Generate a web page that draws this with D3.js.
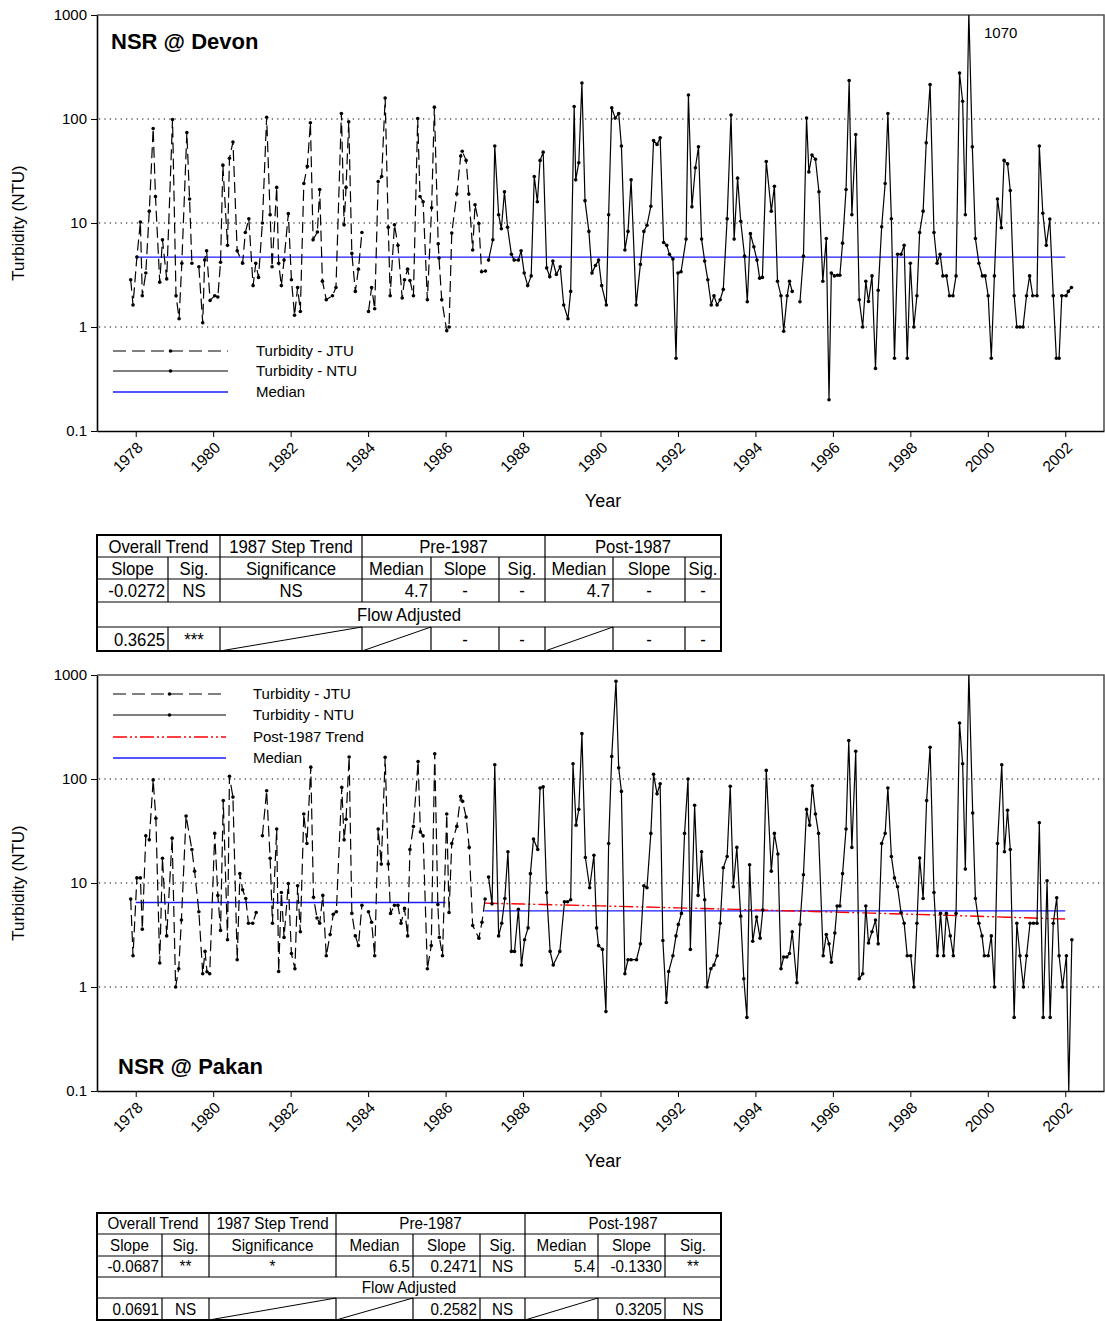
<!DOCTYPE html>
<html><head><meta charset="utf-8">
<script src="https://cdn.jsdelivr.net/npm/d3@7"></script>
<style>body{margin:0;background:#fff}svg{display:block}text{font-family:"Liberation Sans",Arial,sans-serif;fill:#000}</style>
</head><body><svg id="c" width="1105" height="1321"></svg>
<script>
// ---------- DATA ----------
const yTickValues = [0.1, 1, 10, 100, 1000];
const yTickLabels = ["0.1", "1", "10", "100", "1000"];
const xTickYears = [1978,1980,1982,1984,1986,1988,1990,1992,1994,1996,1998,2000,2002];

const devonJTU = [[1977.87,2.85],[1977.93,1.63],[1978.03,4.7],[1978.12,10.2],[1978.17,2.0],[1978.26,3.3],[1978.35,13],[1978.45,81],[1978.51,18],[1978.62,2.7],[1978.69,6.9],[1978.80,2.9],[1978.95,99],[1979.04,2.0],[1979.12,1.2],[1979.19,4.1],[1979.32,74],[1979.39,17],[1979.45,4.1],[1979.54,null],[1979.63,3.8],[1979.73,1.1],[1979.78,4.4],[1979.83,5.4],[1979.92,1.8],[1980.04,2.0],[1980.12,1.94],[1980.19,4.2],[1980.25,36],[1980.37,6.1],[1980.42,42],[1980.51,60],[1980.62,5.4],[1980.76,4.1],[1980.83,8.1],[1980.92,11],[1981.03,2.5],[1981.10,4.1],[1981.17,3.0],[1981.27,10],[1981.38,104],[1981.47,12],[1981.52,3.8],[1981.64,22],[1981.69,4.1],[1981.76,2.5],[1981.83,4.4],[1981.94,12.3],[1982.02,2.85],[1982.10,1.3],[1982.18,2.4],[1982.25,1.41],[1982.34,24],[1982.43,35],[1982.51,92],[1982.58,6.9],[1982.69,8.2],[1982.75,21],[1982.82,2.76],[1982.92,1.83],[1983.08,2.0],[1983.17,2.4],[1983.31,113],[1983.38,9.6],[1983.43,22],[1983.50,94],[1983.58,5.1],[1983.67,2.2],[1983.75,3.6],[1983.84,8.1],[1983.92,null],[1984.01,1.41],[1984.09,2.4],[1984.17,1.5],[1984.26,25],[1984.35,28],[1984.44,159],[1984.52,9.1],[1984.57,2.0],[1984.68,9.6],[1984.77,6.1],[1984.88,1.9],[1984.94,2.85],[1985.02,3.6],[1985.08,2.8],[1985.17,2.0],[1985.28,101],[1985.34,18],[1985.42,16],[1985.53,1.83],[1985.64,14],[1985.71,130],[1985.81,6.3],[1985.83,4.6],[1985.90,1.83],[1986.03,0.92],[1986.09,1.0],[1986.16,8.0],[1986.29,19],[1986.39,44],[1986.43,49],[1986.53,40],[1986.60,19],[1986.70,5.5],[1986.76,15],[1986.86,9.9],[1986.93,3.4],[1987.03,3.45]];

const devonNTU = [[1987.11,4.4],[1987.22,6.9],[1987.27,55],[1987.37,12],[1987.44,8.8],[1987.52,20],[1987.60,9.1],[1987.70,5.0],[1987.77,4.4],[1987.88,4.4],[1987.95,5.4],[1988.03,3.3],[1988.12,2.5],[1988.21,3.1],[1988.29,28],[1988.37,16],[1988.44,40],[1988.52,48],[1988.61,3.7],[1988.69,3.05],[1988.77,4.3],[1988.86,3.2],[1988.96,3.8],[1989.05,1.63],[1989.16,1.2],[1989.23,2.2],[1989.32,132],[1989.36,26],[1989.44,38],[1989.52,222],[1989.60,16.4],[1989.70,8.3],[1989.78,3.3],[1989.87,3.9],[1989.95,4.4],[1990.03,2.5],[1990.15,1.63],[1990.21,12],[1990.29,128],[1990.38,102],[1990.47,113],[1990.54,55],[1990.63,5.5],[1990.71,8.3],[1990.79,26],[1990.92,1.63],[1991.03,4.0],[1991.12,8.3],[1991.20,9.5],[1991.30,14.5],[1991.37,62],[1991.46,57],[1991.54,66],[1991.63,6.5],[1991.71,6.1],[1991.78,5.0],[1991.87,4.5],[1991.95,0.5],[1992.00,3.3],[1992.08,3.4],[1992.21,7.0],[1992.27,170],[1992.36,14.3],[1992.45,34],[1992.53,54],[1992.61,7.0],[1992.69,4.3],[1992.77,2.85],[1992.86,1.63],[1992.93,2.0],[1993.01,1.63],[1993.09,1.83],[1993.17,2.3],[1993.27,11],[1993.37,109],[1993.45,7.0],[1993.54,27],[1993.62,10.4],[1993.72,4.8],[1993.79,1.75],[1993.87,7.9],[1993.96,5.9],[1994.04,4.4],[1994.11,2.95],[1994.18,3.0],[1994.28,39],[1994.41,13],[1994.49,22.5],[1994.57,2.75],[1994.66,2.0],[1994.73,0.91],[1994.82,2.0],[1994.88,2.75],[1994.95,2.2],[1995.05,null],[1995.15,1.75],[1995.24,4.8],[1995.32,102],[1995.38,31],[1995.46,45],[1995.55,41],[1995.64,20],[1995.74,2.75],[1995.83,7.1],[1995.90,0.2],[1995.96,3.3],[1996.04,3.1],[1996.12,3.15],[1996.18,3.15],[1996.25,6.4],[1996.34,21],[1996.42,234],[1996.49,12],[1996.59,71],[1996.68,1.83],[1996.77,1.0],[1996.85,2.75],[1996.92,1.76],[1997.01,3.1],[1997.10,0.4],[1997.17,2.25],[1997.26,9.2],[1997.35,24],[1997.42,113],[1997.51,11],[1997.59,0.5],[1997.67,5.0],[1997.76,5.0],[1997.84,6.1],[1997.92,0.5],[1998.00,4.1],[1998.09,1.0],[1998.17,2.0],[1998.24,8.1],[1998.33,13],[1998.41,59],[1998.51,214],[1998.61,8.1],[1998.69,4.1],[1998.77,5.0],[1998.84,3.1],[1998.93,3.1],[1999.01,2.0],[1999.10,2.0],[1999.18,3.1],[1999.27,277],[1999.35,148],[1999.42,12],[1999.51,1070],[1999.60,54],[1999.68,7.1],[1999.77,4.1],[1999.86,3.1],[1999.93,3.1],[2000.01,2.0],[2000.09,0.5],[2000.17,3.1],[2000.25,17],[2000.35,9.0],[2000.42,40],[2000.51,37],[2000.58,20.5],[2000.68,2.0],[2000.75,1.0],[2000.83,1.0],[2000.91,1.0],[2001.00,2.0],[2001.08,3.1],[2001.16,2.0],[2001.27,2.0],[2001.33,55],[2001.42,12.4],[2001.51,6.1],[2001.60,10.9],[2001.69,2.0],[2001.77,0.5],[2001.84,0.5],[2001.91,2.0],[2002.02,2.0],[2002.08,2.2],[2002.16,2.4]];

const pakanJTU = [[1977.87,7.0],[1977.93,2.0],[1978.03,11.2],[1978.12,11.2],[1978.17,3.6],[1978.26,28.5],[1978.35,26],[1978.45,98],[1978.52,42],[1978.62,1.7],[1978.69,17.3],[1978.80,3.1],[1978.94,27],[1979.03,1.0],[1979.11,1.5],[1979.18,4.4],[1979.30,44],[1979.45,21],[1979.52,13],[1979.63,5.3],[1979.73,1.34],[1979.79,2.2],[1979.84,1.4],[1979.91,1.34],[1980.04,30],[1980.12,7.6],[1980.19,3.5],[1980.26,62],[1980.37,2.85],[1980.42,106],[1980.51,67],[1980.62,1.83],[1980.69,12.3],[1980.76,8.6],[1980.84,7.1],[1980.91,4.1],[1981.02,4.1],[1981.11,5.2],[1981.19,null],[1981.27,28.5],[1981.38,77],[1981.47,17.3],[1981.53,4.1],[1981.64,33],[1981.69,1.41],[1981.76,8.1],[1981.83,3.0],[1981.94,9.9],[1982.02,2.1],[1982.11,1.5],[1982.18,9.4],[1982.25,3.4],[1982.34,46],[1982.42,24],[1982.52,130],[1982.59,7.3],[1982.68,4.6],[1982.75,4.1],[1982.83,7.6],[1982.92,2.0],[1983.02,3.2],[1983.10,5.0],[1983.18,5.3],[1983.32,83],[1983.38,26],[1983.43,41],[1983.51,163],[1983.58,5.1],[1983.67,3.1],[1983.75,2.5],[1983.84,6.1],[1983.92,null],[1984.01,5.3],[1984.09,4.2],[1984.17,2.0],[1984.26,33],[1984.34,15.2],[1984.44,162],[1984.52,15.2],[1984.58,5.1],[1984.68,6.1],[1984.77,6.1],[1984.85,4.1],[1984.94,5.7],[1985.02,3.1],[1985.08,21],[1985.17,35],[1985.29,147],[1985.35,31],[1985.42,28.5],[1985.53,1.5],[1985.63,2.5],[1985.72,175],[1985.80,6.2],[1985.84,3.0],[1985.92,2.0],[1986.03,46],[1986.09,5.2],[1986.16,24],[1986.29,35],[1986.39,68],[1986.44,61],[1986.53,43],[1986.61,22],[1986.70,3.9],[1986.86,2.95],[1986.94,4.2],[1987.02,7.0]];

const pakanNTU = [[1987.11,11.4],[1987.20,6.3],[1987.27,137],[1987.37,3.1],[1987.45,4.1],[1987.53,7.1],[1987.61,20],[1987.70,2.2],[1987.78,2.2],[1987.88,5.6],[1987.96,1.63],[1988.04,2.85],[1988.13,3.7],[1988.19,12.3],[1988.27,26.5],[1988.38,21],[1988.44,82],[1988.52,84],[1988.61,8.1],[1988.70,2.2],[1988.78,1.63],[1988.95,2.2],[1989.07,6.6],[1989.15,6.6],[1989.23,6.9],[1989.29,140],[1989.37,36],[1989.44,51],[1989.52,273],[1989.61,17.6],[1989.72,9.0],[1989.83,18.5],[1989.90,3.7],[1989.95,2.5],[1990.05,2.3],[1990.14,0.58],[1990.21,24],[1990.29,165],[1990.40,870],[1990.47,128],[1990.54,76],[1990.63,1.34],[1990.71,1.83],[1990.79,1.83],[1990.93,1.83],[1991.03,2.6],[1991.12,9.4],[1991.20,9.0],[1991.30,30],[1991.37,111],[1991.46,72],[1991.54,90],[1991.61,2.8],[1991.70,0.71],[1991.76,1.41],[1991.87,2.0],[1991.95,3.1],[1992.01,4.0],[1992.09,5.1],[1992.17,30],[1992.26,100],[1992.32,2.3],[1992.43,56],[1992.52,7.6],[1992.61,20],[1992.69,6.9],[1992.75,1.0],[1992.85,1.5],[1992.93,1.63],[1993.01,2.0],[1993.09,4.1],[1993.17,14],[1993.27,18],[1993.35,85],[1993.43,9.2],[1993.52,22],[1993.62,4.8],[1993.70,1.2],[1993.78,0.51],[1993.85,15],[1993.93,2.75],[1994.03,4.7],[1994.12,2.95],[1994.19,5.5],[1994.28,121],[1994.41,13],[1994.49,30],[1994.58,19],[1994.66,1.5],[1994.73,1.94],[1994.81,1.94],[1994.88,2.1],[1994.95,3.4],[1995.07,1.1],[1995.15,4.0],[1995.24,12],[1995.32,51],[1995.40,36],[1995.47,86],[1995.55,46],[1995.63,30],[1995.75,2.0],[1995.83,3.2],[1995.90,2.6],[1995.96,1.73],[1996.05,3.3],[1996.11,6.0],[1996.18,6.0],[1996.25,12.3],[1996.34,33],[1996.41,234],[1996.49,22],[1996.59,185],[1996.68,1.2],[1996.77,1.34],[1996.85,6.0],[1996.92,2.65],[1997.01,3.4],[1997.10,4.4],[1997.17,2.6],[1997.26,24],[1997.35,30],[1997.42,82],[1997.51,18],[1997.59,11.2],[1997.67,9.2],[1997.76,5.2],[1997.84,4.1],[1997.92,2.0],[1998.01,2.0],[1998.09,1.0],[1998.17,4.1],[1998.24,17.4],[1998.33,7.1],[1998.42,62],[1998.51,202],[1998.61,8.1],[1998.70,2.0],[1998.78,5.1],[1998.86,2.0],[1998.93,5.1],[1999.03,3.1],[1999.11,2.0],[1999.18,5.1],[1999.27,345],[1999.35,140],[1999.42,13.6],[1999.51,1070],[1999.61,47],[1999.68,7.1],[1999.77,4.1],[1999.85,3.1],[1999.91,2.0],[2000.01,2.0],[2000.09,3.1],[2000.17,1.0],[2000.25,24],[2000.36,137],[2000.43,20],[2000.51,50],[2000.58,21],[2000.68,0.51],[2000.75,4.1],[2000.83,2.0],[2000.92,1.0],[2001.00,2.0],[2001.09,4.1],[2001.18,4.1],[2001.27,4.1],[2001.33,38],[2001.43,0.51],[2001.53,10.5],[2001.61,0.51],[2001.69,4.1],[2001.78,7.2],[2001.84,2.0],[2001.93,1.0],[2002.03,2.0],[2002.09,0.1],[2002.17,2.85]];

// medians / trend: [startYear, endYear, startValue, endValue]
const devonMedian = [[1978.0, 2002.0, 4.7, 4.7]];
const pakanMedian = [[1978.0, 1986.0, 6.5, 6.5], [1987.0, 2002.0, 5.4, 5.4]];
const pakanTrend = [[1987.0, 2002.0, 6.4, 4.5]];

const devonLegend = ["Turbidity - JTU", "Turbidity - NTU", "Median"];
const pakanLegend = ["Turbidity - JTU", "Turbidity - NTU", "Post-1987 Trend", "Median"];

const tableHead1 = ["Overall Trend", "1987 Step Trend", "Pre-1987", "Post-1987"];
const tableHead2 = ["Slope", "Sig.", "Significance", "Median", "Slope", "Sig.", "Median", "Slope", "Sig."];
const flowLabel = "Flow Adjusted";
const devonRow = ["-0.0272", "NS", "NS", "4.7", "-", "-", "4.7", "-", "-"];
const devonFlow = ["0.3625", "***", "/", "/", "-", "-", "/", "-", "-"];
const pakanRow = ["-0.0687", "**", "*", "6.5", "0.2471", "NS", "5.4", "-0.1330", "**"];
const pakanFlow = ["0.0691", "NS", "/", "/", "0.2582", "NS", "/", "0.3205", "NS"];

// ---------- DRAW ----------
const svg = d3.select("#c");
const L = 97, R = 1104;
const x = d3.scaleLinear().domain([1977, 2003]).range([L, R]);

function chart(cfg) {
  const g = svg.append("g");
  const y = d3.scaleLog().domain([0.1, 1000]).range([cfg.bottom, cfg.top]);
  const clipId = "clip" + cfg.id;
  svg.append("clipPath").attr("id", clipId).append("rect")
    .attr("x", L).attr("y", cfg.top).attr("width", R - L).attr("height", cfg.bottom - cfg.top);

  g.selectAll(".grid").data([1, 10, 100]).enter().append("line")
    .attr("x1", L + 2).attr("x2", R).attr("y1", d => y(d)).attr("y2", d => y(d))
    .attr("stroke", "#000").attr("stroke-width", 1.2).attr("stroke-dasharray", "1.2,4.2");

  g.append("path").attr("d", `M${L},${cfg.top}H${R}V${cfg.bottom}`)
    .attr("fill", "none").attr("stroke", "#555").attr("stroke-width", 1.6);

  const ya = g.append("g").attr("transform", `translate(${L},0)`)
    .call(d3.axisLeft(y).tickValues(yTickValues).tickFormat((d, i) => yTickLabels[i]).tickSize(6).tickSizeOuter(0).tickPadding(4));
  ya.select(".domain").attr("stroke-width", 1.6);
  ya.selectAll("text").attr("font-size", 15).attr("font-family", "Liberation Sans, Arial");

  const xa = g.append("g").attr("transform", `translate(0,${cfg.bottom})`)
    .call(d3.axisBottom(x).tickValues(xTickYears).tickFormat("").tickSize(6).tickSizeOuter(0));
  xa.select(".domain").attr("stroke-width", 1.6);
  g.selectAll(".xl").data(xTickYears).enter().append("text")
    .attr("transform", d => `translate(${x(d) - 8},${cfg.bottom + 26}) rotate(-45)`)
    .attr("text-anchor", "middle").attr("dy", "0.35em").attr("font-size", 15.5).text(d => d);

  g.append("text").attr("transform", `translate(24,${(cfg.top + cfg.bottom) / 2}) rotate(-90)`)
    .attr("text-anchor", "middle").attr("font-size", 17).text("Turbidity (NTU)");
  g.append("text").attr("x", 603).attr("y", cfg.bottom + 76).attr("text-anchor", "middle")
    .attr("font-size", 18).text("Year");

  g.append("text").attr("x", cfg.titleX).attr("y", cfg.titleY).attr("font-size", 22)
    .attr("font-weight", "bold").text(cfg.title);

  const pg = g.append("g").attr("clip-path", `url(#${clipId})`);
  const line = d3.line().defined(d => d[1] != null).x(d => x(d[0])).y(d => y(d[1]));

  cfg.median.forEach(m => {
    pg.append("line").attr("x1", x(m[0])).attr("x2", x(m[1])).attr("y1", y(m[2])).attr("y2", y(m[3]))
      .attr("stroke", "#1a1aff").attr("stroke-width", 1.4);
  });
  (cfg.trend || []).forEach(m => {
    const pts = d3.range(0, 31).map(i => [m[0] + (m[1] - m[0]) * i / 30, m[2] + (m[3] - m[2]) * i / 30]);
    pg.append("path").attr("d", line(pts)).attr("fill", "none").attr("stroke", "#ff0000")
      .attr("stroke-width", 1.4).attr("stroke-dasharray", "14,3,2,3,2,3");
  });

  pg.append("path").attr("d", line(cfg.jtu)).attr("fill", "none").attr("stroke", "#000")
    .attr("stroke-width", 1.2).attr("stroke-dasharray", "11,5");
  pg.append("path").attr("d", line(cfg.ntu)).attr("fill", "none").attr("stroke", "#000")
    .attr("stroke-width", 1.2);
  const pts = cfg.jtu.concat(cfg.ntu).filter(d => d[1] != null && d[1] <= 1000 && d[1] > 0.1);
  pg.selectAll(".pt").data(pts).enter().append("circle")
    .attr("cx", d => x(d[0])).attr("cy", d => y(d[1])).attr("r", 1.8).attr("fill", "#000");

  const lg = g.append("g");
  cfg.legend.forEach((t, i) => {
    const ly = cfg.legendY[i];
    const kind = cfg.legendKind[i];
    const ln = lg.append("line").attr("x1", 113).attr("x2", cfg.legendX2).attr("y1", ly).attr("y2", ly)
      .attr("stroke-width", 1.2);
    if (kind === "jtu") { ln.attr("stroke", "#000").attr("stroke-dasharray", "13,6"); }
    if (kind === "ntu") { ln.attr("stroke", "#000"); }
    if (kind === "med") { ln.attr("stroke", "#1a1aff").attr("stroke-width", 1.4); }
    if (kind === "trend") { ln.attr("stroke", "#ff0000").attr("stroke-dasharray", "14,3,2,3,2,3").attr("stroke-width", 1.4); }
    if (kind === "jtu" || kind === "ntu") {
      lg.append("circle").attr("cx", (113 + cfg.legendX2) / 2).attr("cy", ly).attr("r", 1.8).attr("fill", "#000");
    }
    lg.append("text").attr("x", cfg.legendTextX).attr("y", ly).attr("dy", "0.35em").attr("font-size", 15).text(t);
  });

  if (cfg.note) {
    g.append("text").attr("x", cfg.note.x).attr("y", cfg.note.y).attr("font-size", 15).text(cfg.note.text);
  }
}

chart({id: "a", top: 15, bottom: 431, title: "NSR @ Devon", titleX: 111, titleY: 49,
  jtu: devonJTU, ntu: devonNTU, median: devonMedian,
  legend: devonLegend, legendKind: ["jtu", "ntu", "med"], legendY: [351, 371, 392], legendX2: 228, legendTextX: 256,
  note: {x: 984, y: 38, text: "1070"}});

chart({id: "b", top: 675, bottom: 1091, title: "NSR @ Pakan", titleX: 118, titleY: 1074,
  jtu: pakanJTU, ntu: pakanNTU, median: pakanMedian, trend: pakanTrend,
  legend: pakanLegend, legendKind: ["jtu", "ntu", "trend", "med"], legendY: [694, 715, 737, 758], legendX2: 226, legendTextX: 253});

// ---------- TABLES ----------
function table(cfg, row3, row5) {
  const g = svg.append("g");
  const c = cfg.cols, r = cfg.rows;
  const W = c[c.length - 1];
  const T = (s, xx, yy, anchor) => g.append("text")
    .attr("transform", `translate(${xx},${yy}) scale(${cfg.sx},1)`)
    .attr("text-anchor", anchor).attr("font-size", cfg.fs).text(s);
  const mid = i => (r[i] + r[i + 1]) / 2 + cfg.fs * 0.36;
  const hl = (yy) => g.append("line").attr("x1", c[0]).attr("x2", W).attr("y1", yy).attr("y2", yy).attr("stroke", "#000").attr("stroke-width", 1.2);
  const vl = (xx, y0, y1) => g.append("line").attr("x1", xx).attr("x2", xx).attr("y1", y0).attr("y2", y1).attr("stroke", "#000").attr("stroke-width", 1.2);

  for (let i = 1; i < r.length - 1; i++) hl(r[i]);
  [2, 3, 6].forEach(k => vl(c[k], r[0], r[1]));
  for (let k = 1; k < c.length - 1; k++) { vl(c[k], r[1], r[3]); vl(c[k], r[4], r[5]); }
  g.append("rect").attr("x", c[0]).attr("y", r[0]).attr("width", W - c[0]).attr("height", r[5] - r[0])
    .attr("fill", "none").attr("stroke", "#000").attr("stroke-width", 2);

  const spans = [[0, 2], [2, 3], [3, 6], [6, 9]];
  tableHead1.forEach((t, i) => T(t, (c[spans[i][0]] + c[spans[i][1]]) / 2, mid(0), "middle"));
  tableHead2.forEach((t, i) => T(t, (c[i] + c[i + 1]) / 2, mid(1), "middle"));
  T(flowLabel, (c[0] + W) / 2, mid(3), "middle");
  const cell = (t, i, ri) => {
    if (t === "/") {
      g.append("line").attr("x1", c[i]).attr("y1", r[ri + 1]).attr("x2", c[i + 1]).attr("y2", r[ri])
        .attr("stroke", "#000").attr("stroke-width", 1);
    } else if (/^-?\d/.test(t)) {
      T(t, c[i + 1] - 3, mid(ri), "end");
    } else {
      T(t, (c[i] + c[i + 1]) / 2, mid(ri), "middle");
    }
  };
  row3.forEach((t, i) => cell(t, i, 2));
  row5.forEach((t, i) => cell(t, i, 4));
}

table({cols: [97, 168, 220, 362, 431, 499, 545, 613, 685, 721], rows: [535, 557, 579, 602, 627, 651], fs: 19, sx: 0.88},
  devonRow, devonFlow);
table({cols: [97, 162, 209, 336, 413, 480, 525, 598, 665, 721], rows: [1213, 1234, 1256, 1277, 1298, 1320], fs: 16.5, sx: 0.92},
  pakanRow, pakanFlow);
</script>
</body></html>
